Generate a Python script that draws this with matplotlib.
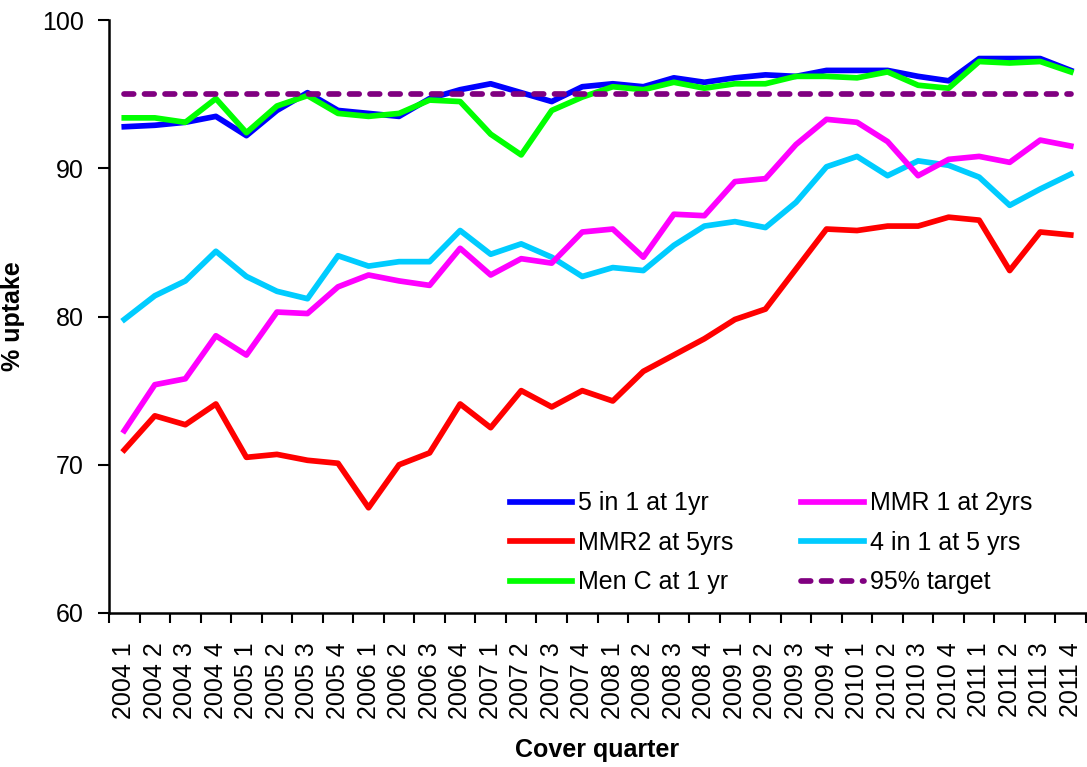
import matplotlib.pyplot as plt
import numpy as np

plt.rcParams['font.family'] = ['Liberation Sans', 'DejaVu Sans']

# cover quarters 2004 Q1 .. 2011 Q4
quarters = [f"{y} {q}" for y in range(2004, 2012) for q in range(1, 5)]

five_in_one = [92.8, 92.9, 93.1, 93.5, 92.2, 93.9, 95.1, 93.9, 93.7, 93.5,
               94.7, 95.3, 95.7, 95.1, 94.5, 95.5, 95.7, 95.5, 96.1, 95.8,
               96.1, 96.3, 96.2, 96.6, 96.6, 96.6, 96.2, 95.9, 97.4, 97.4,
               97.4, 96.6]
mmr2_5yrs = [71.0, 73.3, 72.7, 74.1, 70.5, 70.7, 70.3, 70.1, 67.1, 70.0,
             70.8, 74.1, 72.5, 75.0, 73.9, 75.0, 74.3, 76.3, 77.4, 78.5,
             79.8, 80.5, 83.2, 85.9, 85.8, 86.1, 86.1, 86.7, 86.5, 83.1,
             85.7, 85.5]
menc_1yr = [93.4, 93.4, 93.1, 94.7, 92.4, 94.2, 94.9, 93.7, 93.5, 93.7,
            94.6, 94.5, 92.3, 90.9, 93.9, 94.8, 95.5, 95.3, 95.8, 95.4,
            95.7, 95.7, 96.2, 96.2, 96.1, 96.5, 95.6, 95.4, 97.2, 97.1,
            97.2, 96.5]
mmr1_2yrs = [72.3, 75.4, 75.8, 78.7, 77.4, 80.3, 80.2, 82.0, 82.8, 82.4,
             82.1, 84.6, 82.8, 83.9, 83.6, 85.7, 85.9, 84.0, 86.9, 86.8,
             89.1, 89.3, 91.6, 93.3, 93.1, 91.8, 89.5, 90.6, 90.8, 90.4,
             91.9, 91.5]
four_in_one = [79.8, 81.4, 82.4, 84.4, 82.7, 81.7, 81.2, 84.1, 83.4, 83.7,
               83.7, 85.8, 84.2, 84.9, 84.0, 82.7, 83.3, 83.1, 84.8, 86.1,
               86.4, 86.0, 87.7, 90.1, 90.8, 89.5, 90.5, 90.2, 89.4, 87.5,
               88.6, 89.6]
target = [95] * len(quarters)

x = np.arange(len(quarters))

fig = plt.figure(figsize=(10.87, 7.67), dpi=100)
ax = fig.add_axes([0.1003, 0.2008, 0.8988, 0.7731])

lw = 4.1
l1, = ax.plot(x, five_in_one, color='#0000FF', lw=lw, label='5 in 1 at 1yr')
l4, = ax.plot(x, four_in_one, color='#00CCFF', lw=lw, label='4 in 1 at 5 yrs')
l3, = ax.plot(x, mmr1_2yrs, color='#FF00FF', lw=lw, label='MMR 1 at 2yrs')
l2, = ax.plot(x, mmr2_5yrs, color='#FF0000', lw=lw, label='MMR2 at 5yrs')
l5, = ax.plot(x, menc_1yr, color='#00FF00', lw=lw, label='Men C at 1 yr')
l6, = ax.plot(x, target, color='#800080', lw=lw, ls=(0, (1.7, 1.9)),
              dash_capstyle='round', label='95% target')

ax.set_xlim(-0.5, len(quarters) - 0.5)
ax.set_ylim(60, 100)
ax.set_yticks([60, 70, 80, 90, 100])
ax.tick_params(axis='y', labelsize=18, length=8, width=1.5, pad=10)

# ticks on category boundaries, labels in the middle
ax.set_xticks(np.arange(-0.5, len(quarters), 1))
ax.set_xticklabels([])
ax.tick_params(axis='x', which='major', length=7, width=1.5)
ax.set_xticks(x, minor=True)
ax.set_xticklabels(quarters, minor=True, rotation=90, fontsize=18)
ax.tick_params(axis='x', which='minor', length=0, pad=21)

for side in ['top', 'right']:
    ax.spines[side].set_visible(False)
for side in ['left', 'bottom']:
    ax.spines[side].set_linewidth(1.8)

ax.set_ylabel('% uptake', fontsize=18, fontweight='bold', labelpad=12)
ax.set_xlabel('Cover quarter', fontsize=18, fontweight='bold', labelpad=14)

ax.legend(handles=[l1, l2, l5, l3, l4, l6], ncol=2, frameon=False,
          loc='upper left', bbox_to_anchor=(0.41, 0.205), fontsize=18,
          handlelength=2.5, handletextpad=0.25, labelspacing=0.62,
          columnspacing=2.7, borderpad=0, borderaxespad=0)

fig.savefig('out.png', dpi=100)
